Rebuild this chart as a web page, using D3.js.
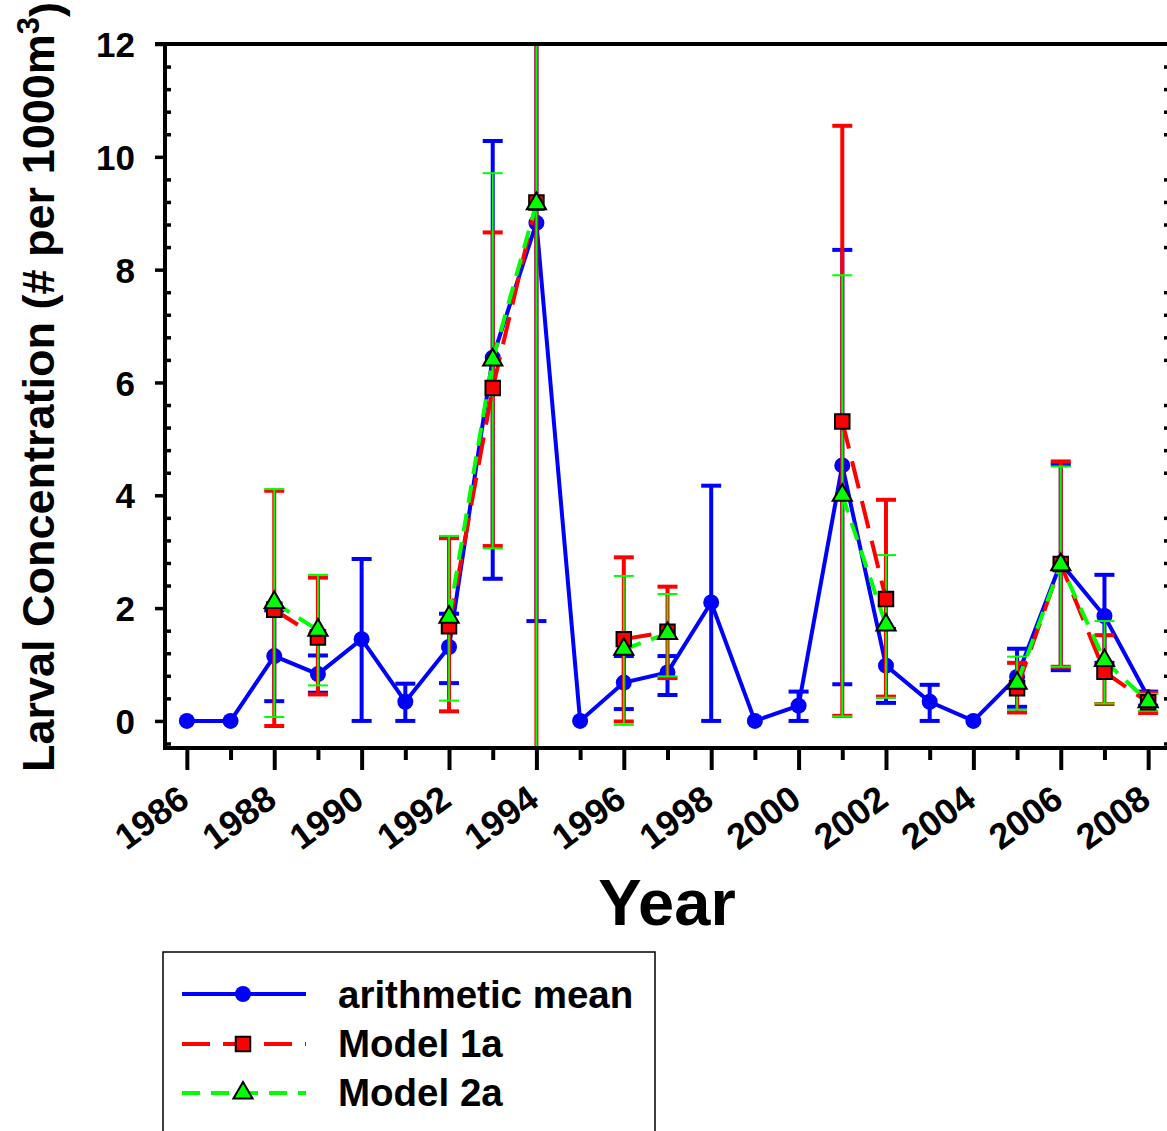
<!DOCTYPE html>
<html>
<head>
<meta charset="utf-8">
<script src="https://cdn.jsdelivr.net/npm/d3@7"></script>
<style>
  html, body { margin: 0; padding: 0; background: #fff; overflow: hidden; }
  svg { display: block; }
  text { font-family: "Liberation Sans", Arial, Helvetica, sans-serif; font-weight: bold; fill: #000; }
</style>
</head>
<body>
<svg id="chart" width="1167" height="1131"></svg>
<script>
// Survey years
const years = [1986, 1987, 1988, 1989, 1990, 1991, 1992, 1993, 1994, 1995, 1996, 1997,
               1998, 1999, 2000, 2001, 2002, 2003, 2004, 2005, 2006, 2007, 2008];

// Arithmetic mean with its interval
const meanVals = [0, 0, 1.15, 0.83, 1.45, 0.34, 1.31, 6.44, 8.83, 0, 0.68, 0.86,
                  2.10, 0, 0.27, 4.53, 0.98, 0.34, 0, 0.78, 2.80, 1.86, 0.42];
const meanLo   = [null, null, 0.35, 0.50, 0, 0, 0.67, 2.52, 1.77, null, 0.21, 0.46,
                  0, null, 0, 0.65, 0.32, 0, null, 0.25, 0.90, 1.03, 0.27];
const meanHi   = [null, null, 1.96, 1.16, 2.87, 0.66, 1.90, 10.28, 15.9, null, 1.15, 1.15,
                  4.17, null, 0.52, 8.35, 1.63, 0.64, null, 1.28, 4.55, 2.59, 0.52];

// Model 1a estimates with interval
const m1Vals = [null, null, 1.97, 1.48, null, null, 1.68, 5.90, 9.19, null, 1.45, 1.58,
                null, null, null, 5.31, 2.16, null, null, 0.58, 2.78, 0.87, 0.33];
const m1Lo   = [null, null, -0.09, 0.47, null, null, 0.17, 3.10, -3.0, null, -0.01, 0.76,
                null, null, null, 0.09, 0.43, null, null, 0.15, 0.96, 0.30, 0.14];
const m1Hi   = [null, null, 4.08, 2.54, null, null, 3.24, 8.66, 21.0, null, 2.90, 2.38,
                null, null, null, 10.55, 3.92, null, null, 1.03, 4.60, 1.52, 0.50];

// Model 2a estimates with interval
const m2Vals = [null, null, 2.10, 1.61, null, null, 1.84, 6.40, 9.17, null, 1.27, 1.55,
                null, null, null, 4.00, 1.70, null, null, 0.67, 2.77, 1.07, 0.34];
const m2Lo   = [null, null, 0.07, 0.63, null, null, 0.36, 3.06, -3.0, null, -0.07, 0.79,
                null, null, null, 0.08, 0.41, null, null, 0.20, 0.96, 0.31, 0.18];
const m2Hi   = [null, null, 4.11, 2.59, null, null, 3.28, 9.71, 21.0, null, 2.57, 2.25,
                null, null, null, 7.90, 2.94, null, null, 1.14, 4.51, 1.77, 0.48];

const yMajorTicks = [0, 2, 4, 6, 8, 10, 12];
const xLabelYears = [1986, 1988, 1990, 1992, 1994, 1996, 1998, 2000, 2002, 2004, 2006, 2008];

const legendLabels = ["arithmetic mean", "Model 1a", "Model 2a"];

const svg = d3.select("#chart");

const plot = { left: 165, right: 1170, top: 44, bottom: 748 };

const x = d3.scaleLinear().domain([1985.5, 2008.5]).range([plot.left, plot.right]);
const y = d3.scaleLinear().domain([-0.48, 12]).range([plot.bottom, plot.top]);

svg.append("defs").append("clipPath").attr("id", "plotClip")
  .append("rect")
  .attr("x", plot.left).attr("y", plot.top)
  .attr("width", plot.right - plot.left).attr("height", plot.bottom - plot.top);

function rows(vals, lo, hi) {
  return years.map((yr, i) => ({ year: yr, v: vals[i], lo: lo[i], hi: hi[i] }));
}

const seriesDefs = [
  { key: "mean", data: rows(meanVals, meanLo, meanHi), color: "#0000ff",
    barWidth: 4, capWidth: 4, capHalf: 10, dash: null, symbol: d3.symbolCircle, size: 201, markerStroke: "none" },
  { key: "m1", data: rows(m1Vals, m1Lo, m1Hi), color: "#ff0000",
    barWidth: 4, capWidth: 4, capHalf: 10, dash: "28,13", symbol: d3.symbolSquare, size: 210, markerStroke: "#000" },
  { key: "m2", data: rows(m2Vals, m2Lo, m2Hi), color: "#00ff00",
    barWidth: 1.8, capWidth: 2, capHalf: 10, dash: "18,11", symbol: d3.symbolTriangle, size: 160, markerStroke: "#000" }
];

const clipped = svg.append("g").attr("clip-path", "url(#plotClip)");

const line = d3.line()
  .defined(d => d.v !== null)
  .x(d => x(d.year))
  .y(d => y(d.v));

// Draw layer by layer: mean series fully, then model bars, lines and markers
function drawBars(g, s) {
  const withBars = s.data.filter(d => d.lo !== null && d.hi !== null);
  g.selectAll(null).data(withBars).enter().append("line")
    .attr("x1", d => x(d.year)).attr("x2", d => x(d.year))
    .attr("y1", d => y(d.lo)).attr("y2", d => y(d.hi))
    .attr("stroke", s.color).attr("stroke-width", s.barWidth);
  ["lo", "hi"].forEach(k => {
    g.selectAll(null).data(withBars).enter().append("line")
      .attr("x1", d => x(d.year) - s.capHalf).attr("x2", d => x(d.year) + s.capHalf)
      .attr("y1", d => y(d[k])).attr("y2", d => y(d[k]))
      .attr("stroke", s.color).attr("stroke-width", s.capWidth);
  });
}
function drawLine(g, s) {
  g.append("path").datum(s.data)
    .attr("d", line)
    .attr("fill", "none")
    .attr("stroke", s.color)
    .attr("stroke-width", 4)
    .attr("stroke-dasharray", s.dash);
}
function drawMarkers(g, s) {
  const sym = d3.symbol().type(s.symbol).size(s.size);
  g.selectAll(null).data(s.data.filter(d => d.v !== null)).enter().append("path")
    .attr("transform", d => `translate(${x(d.year)},${y(d.v)})`)
    .attr("d", sym)
    .attr("fill", s.color)
    .attr("stroke", s.markerStroke)
    .attr("stroke-width", 2);
}

const [sMean, sM1, sM2] = seriesDefs;
drawLine(clipped, sMean);
drawBars(clipped, sMean);
drawMarkers(clipped, sMean);
drawBars(clipped, sM1);
drawBars(clipped, sM2);
drawLine(clipped, sM1);
drawLine(clipped, sM2);
drawMarkers(clipped, sM1);
drawMarkers(clipped, sM2);

// Axes
const axisG = svg.append("g");
const minorY = d3.range(-0.4, 12, 0.4).map(v => Math.round(v * 10) / 10)
  .filter(v => !yMajorTicks.includes(v));

// left axis
const leftAxis = axisG.append("g").attr("transform", `translate(${plot.left},0)`)
  .call(d3.axisLeft(y).tickValues(yMajorTicks).tickSize(10).tickPadding(20).tickFormat(d3.format("d")));
leftAxis.select(".domain").remove();
leftAxis.selectAll(".tick line").attr("stroke", "#000").attr("stroke-width", 3.5);
leftAxis.selectAll(".tick text").style("font-size", "35px").attr("dy", "0.36em");
axisG.append("g").attr("transform", `translate(${plot.left},0)`)
  .call(d3.axisRight(y).tickValues(minorY).tickSize(6).tickFormat(""))
  .call(g => g.select(".domain").remove())
  .selectAll(".tick line").attr("stroke", "#000").attr("stroke-width", 3.5);

// right axis (minor ticks inward, majors outward)
axisG.append("g").attr("transform", `translate(${plot.right},0)`)
  .call(d3.axisLeft(y).tickValues(minorY).tickSize(6).tickFormat(""))
  .call(g => g.select(".domain").remove())
  .selectAll(".tick line").attr("stroke", "#000").attr("stroke-width", 3.5);

// bottom axis
const xMinor = years.filter(v => v % 2 !== 0);
axisG.append("g").attr("transform", `translate(0,${plot.bottom})`)
  .call(d3.axisBottom(x).tickValues(xMinor).tickSize(12).tickFormat(""))
  .call(g => g.select(".domain").remove())
  .selectAll(".tick line").attr("stroke", "#000").attr("stroke-width", 4);
const bottomAxis = axisG.append("g").attr("transform", `translate(0,${plot.bottom})`)
  .call(d3.axisBottom(x).tickValues(xLabelYears).tickSize(22).tickFormat(d3.format("d")));
bottomAxis.select(".domain").remove();
bottomAxis.selectAll(".tick line").attr("stroke", "#000").attr("stroke-width", 4);
bottomAxis.selectAll(".tick text")
  .style("font-size", "36px")
  .attr("text-anchor", "end")
  .attr("dy", null)
  .attr("y", 0)
  .attr("transform", "translate(4,56) rotate(-36)");

// frame lines
axisG.append("line").attr("x1", plot.left).attr("x2", plot.left)
  .attr("y1", plot.top - 2).attr("y2", plot.bottom + 2)
  .attr("stroke", "#000").attr("stroke-width", 4);
axisG.append("line").attr("x1", plot.left - 2).attr("x2", plot.right)
  .attr("y1", plot.bottom).attr("y2", plot.bottom)
  .attr("stroke", "#000").attr("stroke-width", 4);
axisG.append("line").attr("x1", plot.left - 10).attr("x2", plot.right)
  .attr("y1", plot.top).attr("y2", plot.top)
  .attr("stroke", "#000").attr("stroke-width", 4);
axisG.append("line").attr("x1", plot.right).attr("x2", plot.right)
  .attr("y1", plot.top).attr("y2", plot.bottom)
  .attr("stroke", "#000").attr("stroke-width", 4);

// axis titles
const yTitle = svg.append("text")
  .attr("transform", `translate(54,387) rotate(-90)`)
  .attr("text-anchor", "middle")
  .style("font-size", "45px");
yTitle.append("tspan").text("Larval Concentration (# per 1000m");
yTitle.append("tspan").attr("dy", "-0.5em").style("font-size", "31px").text("3");
yTitle.append("tspan").attr("dy", "0.5em").text(")");

svg.append("text")
  .attr("x", 667).attr("y", 925)
  .attr("text-anchor", "middle")
  .style("font-size", "65px")
  .text("Year");

// legend
const legend = svg.append("g");
legend.append("rect")
  .attr("x", 163).attr("y", 952).attr("width", 492).attr("height", 200)
  .attr("fill", "#fff").attr("stroke", "#000").attr("stroke-width", 1.5);

const legendY = [994, 1044, 1093];
const textY = [1008, 1057, 1106];
seriesDefs.forEach((s, i) => {
  legend.append("line")
    .attr("x1", 182).attr("x2", 306)
    .attr("y1", legendY[i]).attr("y2", legendY[i])
    .attr("stroke", s.color).attr("stroke-width", 4)
    .attr("stroke-dasharray", s.dash);
  legend.append("path")
    .attr("transform", `translate(243,${legendY[i]})`)
    .attr("d", d3.symbol().type(s.symbol).size(s.size))
    .attr("fill", s.color)
    .attr("stroke", s.markerStroke)
    .attr("stroke-width", 2);
  legend.append("text")
    .attr("x", 338).attr("y", textY[i])
    .style("font-size", "38.5px")
    .text(legendLabels[i]);
});
</script>
</body>
</html>
